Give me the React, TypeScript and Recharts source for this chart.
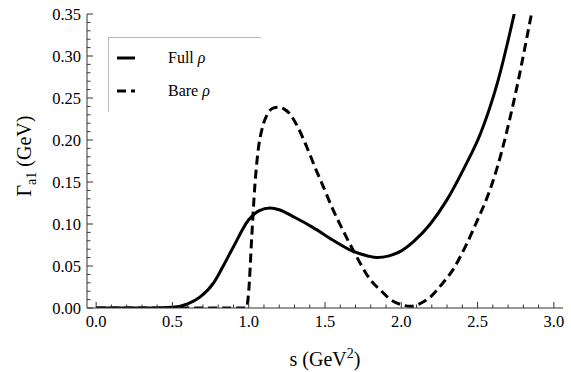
import React from 'react';
import { LineChart, Line, XAxis, YAxis, Legend } from 'recharts';

// s in GeV^2, width in GeV
const fullS = [0, 0.3, 0.5, 0.6, 0.68, 0.77, 0.83, 0.9, 1.0, 1.07, 1.14, 1.2, 1.3, 1.42, 1.55, 1.69, 1.78, 1.84, 1.92, 2.0, 2.08, 2.19, 2.3, 2.41, 2.52, 2.63, 2.76];
const fullG = [0, 0, 0.001, 0.005, 0.013, 0.03, 0.049, 0.073, 0.105, 0.116, 0.119, 0.117, 0.108, 0.096, 0.081, 0.067, 0.062, 0.06, 0.062, 0.068, 0.079, 0.1, 0.129, 0.166, 0.208, 0.268, 0.366];

const bareS = [0, 0.985, 1.0, 1.02, 1.04, 1.06, 1.09, 1.12, 1.16, 1.19, 1.23, 1.27, 1.32, 1.38, 1.44, 1.49, 1.55, 1.6, 1.69, 1.8, 1.87, 1.93, 2.0, 2.06, 2.12, 2.19, 2.26, 2.34, 2.42, 2.5, 2.57, 2.63, 2.74, 2.85, 2.88];
const bareG = [0, 0, 0.02, 0.085, 0.145, 0.185, 0.215, 0.23, 0.238, 0.239, 0.237, 0.231, 0.216, 0.192, 0.165, 0.144, 0.118, 0.099, 0.067, 0.033, 0.02, 0.01, 0.004, 0.002, 0.005, 0.013, 0.027, 0.046, 0.073, 0.105, 0.135, 0.168, 0.248, 0.347, 0.375];

const seriesNames = ['Full ρ', 'Bare ρ'];

const xMajor = [0, 0.5, 1.0, 1.5, 2.0, 2.5, 3.0];
const yMajor = [0, 0.05, 0.1, 0.15, 0.2, 0.25, 0.3, 0.35];

const withMinor = (major: number[], step: number) => {
  const out: number[] = [];
  for (let i = 0; i < major.length - 1; i++) {
    const n = Math.round((major[i + 1] - major[i]) / step);
    for (let k = 0; k < n; k++) out.push(+(major[i] + k * step).toFixed(4));
  }
  out.push(major[major.length - 1]);
  return out;
};
const xTicks = withMinor(xMajor, 0.1);
const yTicks = withMinor(yMajor, 0.01);

const toRows = (s: number[], g: number[]) => s.map((v, i) => ({ s: v, g: g[i] }));
const fullData = toRows(fullS, fullG);
const bareData = toRows(bareS, bareG);

const FONT = 'Liberation Serif';
const serif = { fontFamily: FONT };
const FRAME = '#333';

const isMajor = (v: number, list: number[]) => list.some((m) => Math.abs(m - v) < 1e-6);

const XTick = (props: any) => {
  const { x, y, payload, side } = props;
  const v = payload.value;
  const major = isMajor(v, xMajor);
  const len = major ? 6 : 3.5;
  const dir = side === 'top' ? 1 : -1;
  return (
    <g>
      <line x1={x} y1={y} x2={x} y2={y + dir * len} stroke={FRAME} strokeWidth={1} />
      {major && side === 'bottom' && (
        <text x={x} y={y + 19} textAnchor="middle" style={serif} fontSize={16.5} fill="#000">
          {v.toFixed(1)}
        </text>
      )}
    </g>
  );
};

const YTick = (props: any) => {
  const { x, y, payload, side } = props;
  const v = payload.value;
  const major = isMajor(v, yMajor);
  const len = major ? 6 : 3.5;
  const dir = side === 'left' ? 1 : -1;
  return (
    <g>
      <line x1={x} y1={y} x2={x + dir * len} y2={y} stroke={FRAME} strokeWidth={1} />
      {major && side === 'left' && (
        <text x={x - 6} y={y + 5.5} textAnchor="end" style={serif} fontSize={16.5} fill="#000">
          {v.toFixed(2)}
        </text>
      )}
    </g>
  );
};

const LegendBox = (props: any) => {
  const items = [...(props.payload || [])].sort(
    (a: any, b: any) => seriesNames.indexOf(String(a.value)) - seriesNames.indexOf(String(b.value))
  );
  return (
    <svg width={180} height={100}>
      <line x1={8} y1={7.5} x2={161} y2={7.5} stroke="#bbb" strokeWidth={1} />
      <line x1={8.5} y1={7} x2={8.5} y2={82} stroke="#bbb" strokeWidth={1} />
      {items.map((it: any, i: number) => {
        const cy = 28 + i * 33;
        const name = String(it.value);
        const cut = name.lastIndexOf(' ');
        return (
          <g key={name}>
            <line x1={17} y1={cy} x2={35} y2={cy} stroke="#000" strokeWidth={3}
              strokeDasharray={it.payload?.strokeDasharray} />
            <text x={68} y={cy + 5} style={serif} fontSize={16} fill="#000">
              {name.slice(0, cut + 1)}
              <tspan fontStyle="italic">{name.slice(cut + 1)}</tspan>
            </text>
          </g>
        );
      })}
    </svg>
  );
};

export default function App() {
  return (
    <div style={{ position: 'absolute', left: 0, top: 0 }}>
      <LineChart width={571} height={372} margin={{ top: 14, right: 8, bottom: 0, left: 0 }}>
        <XAxis xAxisId="b" dataKey="s" type="number" domain={[-0.06, 3.06]} ticks={xTicks} interval={0}
          allowDataOverflow height={64} tickSize={0} tickMargin={0} tickLine={false}
          axisLine={{ stroke: FRAME }} tick={(p: any) => <XTick {...p} side="bottom" />} />
        <XAxis xAxisId="t" orientation="top" dataKey="s" type="number" domain={[-0.06, 3.06]} ticks={xTicks}
          interval={0} allowDataOverflow height={0} tickSize={0} tickMargin={0} tickLine={false}
          axisLine={{ stroke: FRAME }} tick={(p: any) => <XTick {...p} side="top" />} />
        <YAxis yAxisId="l" type="number" domain={[0, 0.35]} ticks={yTicks} interval={0} allowDataOverflow
          width={87} tickSize={0} tickMargin={0} tickLine={false} axisLine={{ stroke: FRAME }}
          tick={(p: any) => <YTick {...p} side="left" />} />
        <YAxis yAxisId="r" orientation="right" type="number" domain={[0, 0.35]} ticks={yTicks} interval={0}
          allowDataOverflow width={0} tickSize={0} tickMargin={0} tickLine={false} axisLine={{ stroke: FRAME }}
          tick={(p: any) => <YTick {...p} side="right" />} />
        <Legend layout="vertical" align="center" verticalAlign="middle"
          wrapperStyle={{ left: 100, top: 30, width: 180 }} content={<LegendBox />} />
        <Line xAxisId="b" yAxisId="l" data={fullData} dataKey="g" name={seriesNames[0]} type="monotone"
          stroke="#000" strokeWidth={3} dot={false} isAnimationActive={false} />
        <Line xAxisId="b" yAxisId="l" data={bareData} dataKey="g" name={seriesNames[1]} type="monotone"
          stroke="#000" strokeWidth={3} strokeDasharray="9 5" dot={false} isAnimationActive={false} />
      </LineChart>
      <svg width={571} height={372} style={{ position: 'absolute', left: 0, top: 0, pointerEvents: 'none' }}>
        <text transform="translate(31,156) rotate(-90)" textAnchor="middle" style={serif} fontSize={20} fill="#000">
          Γ<tspan fontSize={14} dy={5}>a1</tspan><tspan dy={-5}> (GeV)</tspan>
        </text>
        <text x={325} y={366} textAnchor="middle" style={serif} fontSize={20} fill="#000">
          s (GeV<tspan fontSize={14} dy={-8}>2</tspan><tspan dy={8}>)</tspan>
        </text>
      </svg>
    </div>
  );
}
